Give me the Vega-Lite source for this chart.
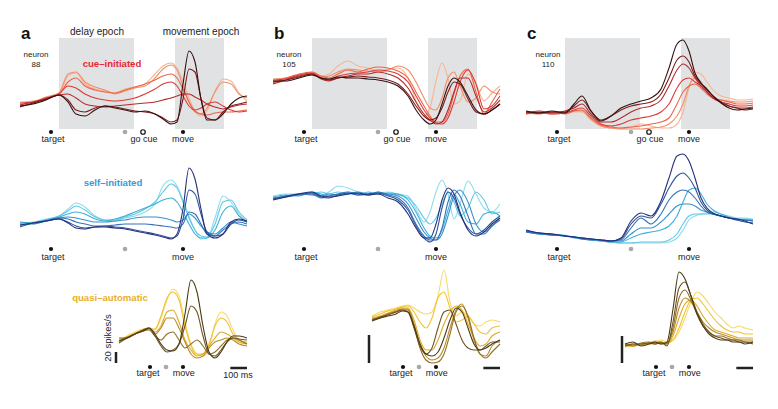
{
"$schema":"https://vega.github.io/schema/vega-lite/v6.json",
"padding":{"left":15,"top":25,"right":0,"bottom":0},
"autosize":{"type":"pad"},
"config":{"view":{"stroke":null},"font":"Liberation Sans"},
"data":{"values":[
{"col":"a","row":1,"t":-978,"c0":42,"c1":40,"c2":38,"c3":41,"c4":39,"c5":37,"c6":38},
{"col":"a","row":1,"t":-900,"c0":43,"c1":42,"c2":41,"c3":42,"c4":42,"c5":41,"c6":40},
{"col":"a","row":1,"t":-822,"c0":46,"c1":47,"c2":46,"c3":46,"c4":45,"c5":45,"c6":44},
{"col":"a","row":1,"t":-744,"c0":50,"c1":51,"c2":50,"c3":50,"c4":49,"c5":49,"c6":49},
{"col":"a","row":1,"t":-690,"c0":68,"c1":70,"c2":62,"c3":58,"c4":50,"c5":44,"c6":42},
{"col":"a","row":1,"t":-642,"c0":71,"c1":72,"c2":66,"c3":56,"c4":46,"c5":34,"c6":30},
{"col":"a","row":1,"t":-588,"c0":60,"c1":62,"c2":58,"c3":50,"c4":40,"c5":32,"c6":28},
{"col":"a","row":1,"t":-528,"c0":55,"c1":57,"c2":54,"c3":46,"c4":38,"c5":36,"c6":34},
{"col":"a","row":1,"t":-468,"c0":53,"c1":54,"c2":52,"c3":44,"c4":37,"c5":38,"c6":38},
{"col":"a","row":1,"t":-408,"c0":51,"c1":50,"c2":51,"c3":43,"c4":38,"c5":37,"c6":36},
{"col":"a","row":1,"t":-348,"c0":55,"c1":53,"c2":54,"c3":44,"c4":39,"c5":35,"c6":34},
{"col":"a","row":1,"t":-288,"c0":57,"c1":56,"c2":57,"c3":46,"c4":40,"c5":33,"c6":32},
{"col":"a","row":1,"t":-228,"c0":60,"c1":58,"c2":60,"c3":50,"c4":41,"c5":32,"c6":33},
{"col":"a","row":1,"t":-168,"c0":70,"c1":66,"c2":64,"c3":55,"c4":42,"c5":30,"c6":30},
{"col":"a","row":1,"t":-120,"c0":78,"c1":75,"c2":68,"c3":60,"c4":44,"c5":26,"c6":25},
{"col":"a","row":1,"t":-72,"c0":81,"c1":79,"c2":70,"c3":62,"c4":46,"c5":22,"c6":20},
{"col":"a","row":1,"t":-36,"c0":76,"c1":74,"c2":66,"c3":58,"c4":48,"c5":24,"c6":22},
{"col":"a","row":1,"t":0,"c0":63,"c1":58,"c2":55,"c3":48,"c4":50,"c5":45,"c6":60},
{"col":"a","row":1,"t":36,"c0":46,"c1":42,"c2":42,"c3":38,"c4":50,"c5":75,"c6":93},
{"col":"a","row":1,"t":72,"c0":33,"c1":32,"c2":33,"c3":34,"c4":47,"c5":72,"c6":82},
{"col":"a","row":1,"t":108,"c0":28,"c1":30,"c2":30,"c3":36,"c4":44,"c5":45,"c6":45},
{"col":"a","row":1,"t":144,"c0":33,"c1":36,"c2":29,"c3":40,"c4":40,"c5":26,"c6":24},
{"col":"a","row":1,"t":192,"c0":53,"c1":52,"c2":31,"c3":42,"c4":37,"c5":24,"c6":24},
{"col":"a","row":1,"t":240,"c0":65,"c1":62,"c2":32,"c3":38,"c4":35,"c5":32,"c6":30},
{"col":"a","row":1,"t":288,"c0":63,"c1":60,"c2":32,"c3":34,"c4":37,"c5":38,"c6":40},
{"col":"a","row":1,"t":336,"c0":51,"c1":50,"c2":33,"c3":32,"c4":39,"c5":40,"c6":46},
{"col":"a","row":1,"t":384,"c0":43,"c1":46,"c2":34,"c3":33,"c4":40,"c5":42,"c6":48},
{"col":"b","row":1,"t":-978,"c0":63,"c1":65,"c2":61,"c3":64,"c4":60,"c5":62,"c6":63},
{"col":"b","row":1,"t":-900,"c0":66,"c1":66,"c2":66,"c3":65,"c4":64,"c5":64,"c6":63},
{"col":"b","row":1,"t":-822,"c0":69,"c1":69,"c2":70,"c3":69,"c4":68,"c5":67,"c6":66},
{"col":"b","row":1,"t":-744,"c0":72,"c1":71,"c2":72,"c3":71,"c4":70,"c5":70,"c6":69},
{"col":"b","row":1,"t":-690,"c0":68,"c1":67,"c2":68,"c3":66,"c4":65,"c5":66,"c6":66},
{"col":"b","row":1,"t":-642,"c0":70,"c1":68,"c2":66,"c3":64,"c4":63,"c5":64,"c6":65},
{"col":"b","row":1,"t":-588,"c0":78,"c1":72,"c2":70,"c3":68,"c4":66,"c5":66,"c6":67},
{"col":"b","row":1,"t":-528,"c0":83,"c1":75,"c2":74,"c3":70,"c4":68,"c5":67,"c6":66},
{"col":"b","row":1,"t":-468,"c0":78,"c1":74,"c2":72,"c3":71,"c4":70,"c5":68,"c6":66},
{"col":"b","row":1,"t":-408,"c0":76,"c1":73,"c2":75,"c3":72,"c4":70,"c5":67,"c6":65},
{"col":"b","row":1,"t":-348,"c0":73,"c1":72,"c2":77,"c3":74,"c4":72,"c5":66,"c6":64},
{"col":"b","row":1,"t":-288,"c0":75,"c1":74,"c2":76,"c3":73,"c4":70,"c5":64,"c6":62},
{"col":"b","row":1,"t":-228,"c0":76,"c1":78,"c2":73,"c3":70,"c4":66,"c5":60,"c6":58},
{"col":"b","row":1,"t":-168,"c0":66,"c1":74,"c2":66,"c3":62,"c4":56,"c5":50,"c6":48},
{"col":"b","row":1,"t":-120,"c0":43,"c1":62,"c2":52,"c3":48,"c4":42,"c5":38,"c6":34},
{"col":"b","row":1,"t":-72,"c0":28,"c1":46,"c2":38,"c3":34,"c4":30,"c5":28,"c6":24},
{"col":"b","row":1,"t":-36,"c0":36,"c1":36,"c2":28,"c3":26,"c4":24,"c5":24,"c6":20},
{"col":"b","row":1,"t":0,"c0":63,"c1":34,"c2":22,"c3":21,"c4":20,"c5":26,"c6":24},
{"col":"b","row":1,"t":36,"c0":81,"c1":46,"c2":22,"c3":20,"c4":22,"c5":36,"c6":40},
{"col":"b","row":1,"t":72,"c0":66,"c1":66,"c2":30,"c3":26,"c4":34,"c5":52,"c6":58},
{"col":"b","row":1,"t":108,"c0":40,"c1":72,"c2":50,"c3":42,"c4":52,"c5":62,"c6":66},
{"col":"b","row":1,"t":144,"c0":43,"c1":58,"c2":68,"c3":62,"c4":66,"c5":60,"c6":62},
{"col":"b","row":1,"t":192,"c0":70,"c1":42,"c2":75,"c3":74,"c4":66,"c5":45,"c6":48},
{"col":"b","row":1,"t":240,"c0":60,"c1":46,"c2":52,"c3":60,"c4":48,"c5":32,"c6":34},
{"col":"b","row":1,"t":288,"c0":43,"c1":58,"c2":30,"c3":35,"c4":32,"c5":30,"c6":30},
{"col":"b","row":1,"t":336,"c0":51,"c1":52,"c2":42,"c3":38,"c4":36,"c5":34,"c6":34},
{"col":"b","row":1,"t":384,"c0":58,"c1":50,"c2":55,"c3":48,"c4":44,"c5":40,"c6":40},
{"col":"c","row":1,"t":-978,"c0":32,"c1":30,"c2":31,"c3":30,"c4":31,"c5":32,"c6":33},
{"col":"c","row":1,"t":-900,"c0":31,"c1":31,"c2":30,"c3":32,"c4":33,"c5":31,"c6":31},
{"col":"c","row":1,"t":-822,"c0":31,"c1":30,"c2":32,"c3":30,"c4":31,"c5":32,"c6":33},
{"col":"c","row":1,"t":-744,"c0":32,"c1":31,"c2":30,"c3":31,"c4":33,"c5":32,"c6":31},
{"col":"c","row":1,"t":-690,"c0":32,"c1":33,"c2":33,"c3":34,"c4":36,"c5":38,"c6":40},
{"col":"c","row":1,"t":-642,"c0":32,"c1":33,"c2":34,"c3":36,"c4":40,"c5":44,"c6":48},
{"col":"c","row":1,"t":-588,"c0":24,"c1":25,"c2":26,"c3":28,"c4":30,"c5":33,"c6":33},
{"col":"c","row":1,"t":-528,"c0":18,"c1":18,"c2":19,"c3":20,"c4":22,"c5":24,"c6":23},
{"col":"c","row":1,"t":-468,"c0":16,"c1":16,"c2":17,"c3":18,"c4":22,"c5":28,"c6":28},
{"col":"c","row":1,"t":-408,"c0":16,"c1":15,"c2":16,"c3":20,"c4":26,"c5":34,"c6":36},
{"col":"c","row":1,"t":-348,"c0":17,"c1":15,"c2":17,"c3":24,"c4":32,"c5":38,"c6":40},
{"col":"c","row":1,"t":-288,"c0":20,"c1":15,"c2":18,"c3":26,"c4":36,"c5":40,"c6":43},
{"col":"c","row":1,"t":-228,"c0":18,"c1":16,"c2":20,"c3":28,"c4":38,"c5":42,"c6":46},
{"col":"c","row":1,"t":-168,"c0":16,"c1":17,"c2":22,"c3":32,"c4":44,"c5":50,"c6":55},
{"col":"c","row":1,"t":-120,"c0":16,"c1":20,"c2":26,"c3":40,"c4":58,"c5":66,"c6":76},
{"col":"c","row":1,"t":-72,"c0":20,"c1":28,"c2":40,"c3":56,"c4":74,"c5":84,"c6":100},
{"col":"c","row":1,"t":-36,"c0":32,"c1":40,"c2":52,"c3":64,"c4":80,"c5":88,"c6":104},
{"col":"c","row":1,"t":0,"c0":56,"c1":58,"c2":58,"c3":66,"c4":76,"c5":82,"c6":93},
{"col":"c","row":1,"t":36,"c0":72,"c1":66,"c2":60,"c3":62,"c4":66,"c5":68,"c6":71},
{"col":"c","row":1,"t":72,"c0":70,"c1":62,"c2":56,"c3":58,"c4":58,"c5":60,"c6":61},
{"col":"c","row":1,"t":108,"c0":62,"c1":52,"c2":50,"c3":52,"c4":52,"c5":54,"c6":55},
{"col":"c","row":1,"t":144,"c0":54,"c1":46,"c2":46,"c3":46,"c4":46,"c5":48,"c6":48},
{"col":"c","row":1,"t":192,"c0":48,"c1":44,"c2":44,"c3":42,"c4":42,"c5":42,"c6":41},
{"col":"c","row":1,"t":240,"c0":46,"c1":43,"c2":42,"c3":40,"c4":38,"c5":38,"c6":36},
{"col":"c","row":1,"t":288,"c0":44,"c1":42,"c2":40,"c3":38,"c4":36,"c5":36,"c6":34},
{"col":"c","row":1,"t":336,"c0":44,"c1":42,"c2":40,"c3":38,"c4":36,"c5":34,"c6":35},
{"col":"c","row":1,"t":384,"c0":45,"c1":43,"c2":41,"c3":39,"c4":37,"c5":35,"c6":36},
{"col":"a","row":2,"t":-978,"s0":41,"s1":39,"s2":38,"s3":42,"s4":40,"s5":37,"s6":39},
{"col":"a","row":2,"t":-900,"s0":42,"s1":41,"s2":41,"s3":41,"s4":40,"s5":41,"s6":41},
{"col":"a","row":2,"t":-822,"s0":45,"s1":44,"s2":44,"s3":43,"s4":43,"s5":43,"s6":43},
{"col":"a","row":2,"t":-744,"s0":48,"s1":48,"s2":47,"s3":46,"s4":46,"s5":45,"s6":45},
{"col":"a","row":2,"t":-690,"s0":55,"s1":53,"s2":50,"s3":47,"s4":45,"s5":42,"s6":41},
{"col":"a","row":2,"t":-642,"s0":61,"s1":58,"s2":52,"s3":46,"s4":42,"s5":38,"s6":36},
{"col":"a","row":2,"t":-588,"s0":57,"s1":54,"s2":50,"s3":44,"s4":40,"s5":36,"s6":35},
{"col":"a","row":2,"t":-528,"s0":48,"s1":47,"s2":45,"s3":42,"s4":38,"s5":37,"s6":37},
{"col":"a","row":2,"t":-468,"s0":44,"s1":44,"s2":43,"s3":42,"s4":38,"s5":38,"s6":37},
{"col":"a","row":2,"t":-408,"s0":43,"s1":44,"s2":45,"s3":43,"s4":39,"s5":37,"s6":36},
{"col":"a","row":2,"t":-348,"s0":46,"s1":47,"s2":48,"s3":44,"s4":40,"s5":36,"s6":35},
{"col":"a","row":2,"t":-288,"s0":48,"s1":50,"s2":52,"s3":46,"s4":40,"s5":34,"s6":33},
{"col":"a","row":2,"t":-228,"s0":52,"s1":55,"s2":56,"s3":47,"s4":40,"s5":32,"s6":31},
{"col":"a","row":2,"t":-168,"s0":60,"s1":62,"s2":60,"s3":47,"s4":39,"s5":30,"s6":29},
{"col":"a","row":2,"t":-120,"s0":78,"s1":72,"s2":64,"s3":46,"s4":38,"s5":28,"s6":27},
{"col":"a","row":2,"t":-72,"s0":84,"s1":80,"s2":66,"s3":44,"s4":37,"s5":26,"s6":25},
{"col":"a","row":2,"t":-36,"s0":78,"s1":76,"s2":62,"s3":42,"s4":36,"s5":28,"s6":30},
{"col":"a","row":2,"t":0,"s0":64,"s1":62,"s2":52,"s3":44,"s4":40,"s5":45,"s6":55},
{"col":"a","row":2,"t":36,"s0":48,"s1":46,"s2":40,"s3":50,"s4":52,"s5":74,"s6":96},
{"col":"a","row":2,"t":72,"s0":34,"s1":34,"s2":30,"s3":46,"s4":50,"s5":70,"s6":85},
{"col":"a","row":2,"t":108,"s0":25,"s1":28,"s2":26,"s3":38,"s4":40,"s5":50,"s6":55},
{"col":"a","row":2,"t":144,"s0":26,"s1":27,"s2":26,"s3":32,"s4":30,"s5":32,"s6":30},
{"col":"a","row":2,"t":192,"s0":46,"s1":40,"s2":34,"s3":30,"s4":28,"s5":28,"s6":26},
{"col":"a","row":2,"t":240,"s0":68,"s1":62,"s2":52,"s3":36,"s4":34,"s5":30,"s6":30},
{"col":"a","row":2,"t":288,"s0":62,"s1":64,"s2":58,"s3":42,"s4":40,"s5":40,"s6":42},
{"col":"a","row":2,"t":336,"s0":50,"s1":52,"s2":48,"s3":40,"s4":42,"s5":44,"s6":45},
{"col":"a","row":2,"t":384,"s0":42,"s1":44,"s2":42,"s3":38,"s4":40,"s5":42,"s6":43},
{"col":"b","row":2,"t":-978,"s0":68,"s1":66,"s2":67,"s3":66,"s4":65,"s5":65,"s6":64},
{"col":"b","row":2,"t":-900,"s0":70,"s1":68,"s2":69,"s3":68,"s4":67,"s5":68,"s6":67},
{"col":"b","row":2,"t":-822,"s0":70,"s1":70,"s2":68,"s3":70,"s4":69,"s5":70,"s6":70},
{"col":"b","row":2,"t":-744,"s0":71,"s1":70,"s2":72,"s3":69,"s4":70,"s5":71,"s6":72},
{"col":"b","row":2,"t":-690,"s0":69,"s1":72,"s2":70,"s3":68,"s4":66,"s5":67,"s6":68},
{"col":"b","row":2,"t":-642,"s0":72,"s1":70,"s2":68,"s3":70,"s4":68,"s5":66,"s6":67},
{"col":"b","row":2,"t":-588,"s0":78,"s1":72,"s2":70,"s3":69,"s4":70,"s5":69,"s6":68},
{"col":"b","row":2,"t":-528,"s0":76,"s1":70,"s2":71,"s3":70,"s4":72,"s5":71,"s6":70},
{"col":"b","row":2,"t":-468,"s0":72,"s1":71,"s2":69,"s3":72,"s4":70,"s5":69,"s6":71},
{"col":"b","row":2,"t":-408,"s0":70,"s1":70,"s2":72,"s3":70,"s4":69,"s5":70,"s6":69},
{"col":"b","row":2,"t":-348,"s0":71,"s1":72,"s2":70,"s3":71,"s4":72,"s5":71,"s6":70},
{"col":"b","row":2,"t":-288,"s0":72,"s1":70,"s2":71,"s3":70,"s4":69,"s5":68,"s6":66},
{"col":"b","row":2,"t":-228,"s0":70,"s1":69,"s2":70,"s3":68,"s4":66,"s5":64,"s6":62},
{"col":"b","row":2,"t":-168,"s0":68,"s1":66,"s2":64,"s3":60,"s4":56,"s5":54,"s6":50},
{"col":"b","row":2,"t":-120,"s0":55,"s1":58,"s2":52,"s3":46,"s4":40,"s5":38,"s6":36},
{"col":"b","row":2,"t":-72,"s0":42,"s1":46,"s2":36,"s3":32,"s4":28,"s5":26,"s6":26},
{"col":"b","row":2,"t":-36,"s0":52,"s1":40,"s2":28,"s3":26,"s4":24,"s5":22,"s6":26},
{"col":"b","row":2,"t":0,"s0":72,"s1":46,"s2":26,"s3":24,"s4":24,"s5":30,"s6":40},
{"col":"b","row":2,"t":36,"s0":84,"s1":60,"s2":34,"s3":30,"s4":36,"s5":56,"s6":64},
{"col":"b","row":2,"t":72,"s0":70,"s1":72,"s2":54,"s3":48,"s4":62,"s5":72,"s6":76},
{"col":"b","row":2,"t":108,"s0":45,"s1":62,"s2":70,"s3":68,"s4":74,"s5":66,"s6":70},
{"col":"b","row":2,"t":144,"s0":60,"s1":48,"s2":60,"s3":74,"s4":68,"s5":50,"s6":52},
{"col":"b","row":2,"t":192,"s0":83,"s1":56,"s2":42,"s3":62,"s4":48,"s5":36,"s6":34},
{"col":"b","row":2,"t":240,"s0":70,"s1":72,"s2":40,"s3":40,"s4":30,"s5":30,"s6":28},
{"col":"b","row":2,"t":288,"s0":56,"s1":64,"s2":50,"s3":32,"s4":30,"s5":34,"s6":32},
{"col":"b","row":2,"t":336,"s0":52,"s1":50,"s2":52,"s3":38,"s4":38,"s5":42,"s6":40},
{"col":"b","row":2,"t":384,"s0":60,"s1":52,"s2":48,"s3":46,"s4":44,"s5":48,"s6":46},
{"col":"c","row":2,"t":-978,"s0":32,"s1":33,"s2":32,"s3":33,"s4":32,"s5":33,"s6":34},
{"col":"c","row":2,"t":-900,"s0":31,"s1":31,"s2":30,"s3":31,"s4":30,"s5":31,"s6":31},
{"col":"c","row":2,"t":-822,"s0":30,"s1":29,"s2":29,"s3":29,"s4":29,"s5":30,"s6":30},
{"col":"c","row":2,"t":-744,"s0":29,"s1":28,"s2":28,"s3":28,"s4":28,"s5":28,"s6":28},
{"col":"c","row":2,"t":-690,"s0":27,"s1":27,"s2":26,"s3":27,"s4":27,"s5":27,"s6":27},
{"col":"c","row":2,"t":-642,"s0":26,"s1":26,"s2":25,"s3":26,"s4":25,"s5":26,"s6":26},
{"col":"c","row":2,"t":-588,"s0":24,"s1":25,"s2":24,"s3":25,"s4":24,"s5":25,"s6":25},
{"col":"c","row":2,"t":-528,"s0":23,"s1":23,"s2":23,"s3":24,"s4":24,"s5":24,"s6":24},
{"col":"c","row":2,"t":-468,"s0":22,"s1":22,"s2":22,"s3":23,"s4":23,"s5":23,"s6":23},
{"col":"c","row":2,"t":-408,"s0":21,"s1":21,"s2":22,"s3":23,"s4":24,"s5":25,"s6":26},
{"col":"c","row":2,"t":-348,"s0":21,"s1":21,"s2":26,"s3":30,"s4":36,"s5":40,"s6":43},
{"col":"c","row":2,"t":-288,"s0":21,"s1":22,"s2":30,"s3":36,"s4":46,"s5":48,"s6":51},
{"col":"c","row":2,"t":-228,"s0":21,"s1":22,"s2":32,"s3":36,"s4":40,"s5":46,"s6":48},
{"col":"c","row":2,"t":-168,"s0":21,"s1":22,"s2":34,"s3":42,"s4":50,"s5":60,"s6":63},
{"col":"c","row":2,"t":-120,"s0":22,"s1":24,"s2":38,"s3":50,"s4":64,"s5":76,"s6":86},
{"col":"c","row":2,"t":-72,"s0":26,"s1":30,"s2":48,"s3":58,"s4":72,"s5":88,"s6":108},
{"col":"c","row":2,"t":-36,"s0":34,"s1":40,"s2":62,"s3":60,"s4":74,"s5":91,"s6":110},
{"col":"c","row":2,"t":0,"s0":44,"s1":48,"s2":74,"s3":60,"s4":72,"s5":86,"s6":103},
{"col":"c","row":2,"t":36,"s0":48,"s1":50,"s2":76,"s3":58,"s4":66,"s5":76,"s6":86},
{"col":"c","row":2,"t":72,"s0":50,"s1":50,"s2":70,"s3":54,"s4":58,"s5":62,"s6":66},
{"col":"c","row":2,"t":108,"s0":51,"s1":50,"s2":60,"s3":52,"s4":52,"s5":54,"s6":56},
{"col":"c","row":2,"t":144,"s0":52,"s1":50,"s2":54,"s3":50,"s4":50,"s5":50,"s6":51},
{"col":"c","row":2,"t":192,"s0":50,"s1":48,"s2":50,"s3":48,"s4":48,"s5":48,"s6":48},
{"col":"c","row":2,"t":240,"s0":48,"s1":46,"s2":47,"s3":46,"s4":46,"s5":46,"s6":46},
{"col":"c","row":2,"t":288,"s0":46,"s1":45,"s2":45,"s3":45,"s4":44,"s5":44,"s6":45},
{"col":"c","row":2,"t":336,"s0":46,"s1":45,"s2":44,"s3":44,"s4":44,"s5":42,"s6":43},
{"col":"c","row":2,"t":384,"s0":45,"s1":44,"s2":44,"s3":43,"s4":43,"s5":41,"s6":40},
{"col":"a","row":3,"t":-384,"q0":42,"q1":44,"q2":45,"q3":43,"q4":46,"q5":41,"q6":43},
{"col":"a","row":3,"t":-336,"q0":48,"q1":47,"q2":47,"q3":47,"q4":46,"q5":46,"q6":46},
{"col":"a","row":3,"t":-288,"q0":52,"q1":51,"q2":50,"q3":50,"q4":50,"q5":50,"q6":50},
{"col":"a","row":3,"t":-240,"q0":55,"q1":54,"q2":54,"q3":53,"q4":53,"q5":54,"q6":53},
{"col":"a","row":3,"t":-204,"q0":56,"q1":55,"q2":56,"q3":55,"q4":54,"q5":56,"q6":56},
{"col":"a","row":3,"t":-168,"q0":54,"q1":55,"q2":52,"q3":50,"q4":48,"q5":48,"q6":50},
{"col":"a","row":3,"t":-132,"q0":66,"q1":68,"q2":58,"q3":56,"q4":44,"q5":38,"q6":40},
{"col":"a","row":3,"t":-96,"q0":84,"q1":86,"q2":72,"q3":66,"q4":50,"q5":32,"q6":34},
{"col":"a","row":3,"t":-60,"q0":95,"q1":92,"q2":74,"q3":66,"q4":52,"q5":34,"q6":33},
{"col":"a","row":3,"t":-24,"q0":88,"q1":84,"q2":62,"q3":56,"q4":44,"q5":40,"q6":40},
{"col":"a","row":3,"t":12,"q0":62,"q1":58,"q2":44,"q3":42,"q4":36,"q5":58,"q6":70},
{"col":"a","row":3,"t":48,"q0":40,"q1":38,"q2":34,"q3":30,"q4":40,"q5":78,"q6":104},
{"col":"a","row":3,"t":84,"q0":30,"q1":30,"q2":28,"q3":26,"q4":44,"q5":72,"q6":92},
{"col":"a","row":3,"t":120,"q0":28,"q1":30,"q2":30,"q3":28,"q4":38,"q5":48,"q6":58},
{"col":"a","row":3,"t":156,"q0":36,"q1":40,"q2":38,"q3":36,"q4":30,"q5":30,"q6":32},
{"col":"a","row":3,"t":192,"q0":60,"q1":58,"q2":46,"q3":42,"q4":32,"q5":28,"q6":26},
{"col":"a","row":3,"t":228,"q0":72,"q1":66,"q2":52,"q3":44,"q4":38,"q5":34,"q6":32},
{"col":"a","row":3,"t":264,"q0":68,"q1":62,"q2":50,"q3":46,"q4":44,"q5":42,"q6":42},
{"col":"a","row":3,"t":300,"q0":54,"q1":50,"q2":46,"q3":44,"q4":46,"q5":46,"q6":48},
{"col":"a","row":3,"t":336,"q0":44,"q1":44,"q2":42,"q3":40,"q4":44,"q5":45,"q6":48},
{"col":"a","row":3,"t":384,"q0":41,"q1":42,"q2":40,"q3":38,"q4":40,"q5":44,"q6":46},
{"col":"b","row":3,"t":-384,"q0":68,"q1":67,"q2":66,"q3":65,"q4":64,"q5":64,"q6":63},
{"col":"b","row":3,"t":-336,"q0":72,"q1":70,"q2":68,"q3":67,"q4":66,"q5":67,"q6":66},
{"col":"b","row":3,"t":-288,"q0":74,"q1":73,"q2":71,"q3":70,"q4":70,"q5":69,"q6":68},
{"col":"b","row":3,"t":-240,"q0":76,"q1":75,"q2":74,"q3":73,"q4":72,"q5":72,"q6":70},
{"col":"b","row":3,"t":-204,"q0":78,"q1":77,"q2":76,"q3":75,"q4":74,"q5":74,"q6":73},
{"col":"b","row":3,"t":-168,"q0":79,"q1":78,"q2":76,"q3":75,"q4":74,"q5":72,"q6":72},
{"col":"b","row":3,"t":-132,"q0":76,"q1":72,"q2":64,"q3":60,"q4":58,"q5":56,"q6":58},
{"col":"b","row":3,"t":-96,"q0":72,"q1":62,"q2":44,"q3":40,"q4":36,"q5":38,"q6":40},
{"col":"b","row":3,"t":-60,"q0":70,"q1":56,"q2":34,"q3":28,"q4":24,"q5":30,"q6":30},
{"col":"b","row":3,"t":-24,"q0":72,"q1":66,"q2":34,"q3":24,"q4":21,"q5":36,"q6":28},
{"col":"b","row":3,"t":12,"q0":88,"q1":86,"q2":44,"q3":26,"q4":22,"q5":56,"q6":32},
{"col":"b","row":3,"t":48,"q0":114,"q1":92,"q2":60,"q3":36,"q4":30,"q5":72,"q6":46},
{"col":"b","row":3,"t":84,"q0":82,"q1":76,"q2":72,"q3":56,"q4":50,"q5":74,"q6":64},
{"col":"b","row":3,"t":120,"q0":68,"q1":62,"q2":78,"q3":74,"q4":72,"q5":60,"q6":76},
{"col":"b","row":3,"t":156,"q0":72,"q1":64,"q2":74,"q3":80,"q4":78,"q5":44,"q6":72},
{"col":"b","row":3,"t":192,"q0":68,"q1":68,"q2":60,"q3":66,"q4":68,"q5":36,"q6":56},
{"col":"b","row":3,"t":228,"q0":60,"q1":60,"q2":46,"q3":44,"q4":46,"q5":34,"q6":40},
{"col":"b","row":3,"t":264,"q0":58,"q1":52,"q2":38,"q3":30,"q4":30,"q5":34,"q6":34},
{"col":"b","row":3,"t":300,"q0":62,"q1":50,"q2":40,"q3":28,"q4":26,"q5":38,"q6":36},
{"col":"b","row":3,"t":336,"q0":64,"q1":56,"q2":48,"q3":38,"q4":32,"q5":42,"q6":40},
{"col":"b","row":3,"t":384,"q0":62,"q1":58,"q2":52,"q3":44,"q4":40,"q5":42,"q6":44},
{"col":"c","row":3,"t":-384,"q0":38,"q1":37,"q2":38,"q3":39,"q4":40,"q5":38,"q6":40},
{"col":"c","row":3,"t":-336,"q0":38,"q1":38,"q2":39,"q3":40,"q4":38,"q5":40,"q6":42},
{"col":"c","row":3,"t":-288,"q0":39,"q1":40,"q2":40,"q3":39,"q4":41,"q5":40,"q6":38},
{"col":"c","row":3,"t":-240,"q0":40,"q1":41,"q2":40,"q3":41,"q4":42,"q5":41,"q6":40},
{"col":"c","row":3,"t":-204,"q0":42,"q1":43,"q2":41,"q3":42,"q4":40,"q5":40,"q6":42},
{"col":"c","row":3,"t":-168,"q0":44,"q1":42,"q2":42,"q3":40,"q4":41,"q5":42,"q6":40},
{"col":"c","row":3,"t":-132,"q0":42,"q1":41,"q2":40,"q3":41,"q4":40,"q5":38,"q6":42},
{"col":"c","row":3,"t":-96,"q0":44,"q1":44,"q2":48,"q3":52,"q4":56,"q5":62,"q6":75},
{"col":"c","row":3,"t":-60,"q0":52,"q1":56,"q2":66,"q3":76,"q4":86,"q5":96,"q6":112},
{"col":"c","row":3,"t":-24,"q0":66,"q1":72,"q2":80,"q3":86,"q4":94,"q5":102,"q6":105},
{"col":"c","row":3,"t":12,"q0":82,"q1":84,"q2":84,"q3":82,"q4":84,"q5":88,"q6":88},
{"col":"c","row":3,"t":48,"q0":92,"q1":86,"q2":78,"q3":72,"q4":70,"q5":72,"q6":70},
{"col":"c","row":3,"t":84,"q0":88,"q1":80,"q2":68,"q3":62,"q4":58,"q5":60,"q6":58},
{"col":"c","row":3,"t":120,"q0":80,"q1":72,"q2":60,"q3":56,"q4":52,"q5":52,"q6":50},
{"col":"c","row":3,"t":156,"q0":72,"q1":64,"q2":54,"q3":52,"q4":48,"q5":48,"q6":46},
{"col":"c","row":3,"t":192,"q0":66,"q1":58,"q2":52,"q3":50,"q4":48,"q5":46,"q6":44},
{"col":"c","row":3,"t":228,"q0":60,"q1":54,"q2":50,"q3":48,"q4":46,"q5":44,"q6":44},
{"col":"c","row":3,"t":264,"q0":56,"q1":52,"q2":48,"q3":46,"q4":44,"q5":44,"q6":42},
{"col":"c","row":3,"t":300,"q0":58,"q1":52,"q2":46,"q3":44,"q4":44,"q5":42,"q6":42},
{"col":"c","row":3,"t":336,"q0":56,"q1":50,"q2":46,"q3":44,"q4":42,"q5":42,"q6":40},
{"col":"c","row":3,"t":384,"q0":54,"q1":50,"q2":46,"q3":44,"q4":42,"q5":40,"q6":42},
{"col":"a","row":1,"e":"rect","t":-744,"t2":-294,"v":15,"v2":106},
{"col":"a","row":1,"e":"rect","t":-48,"t2":246,"v":15,"v2":106},
{"col":"b","row":1,"e":"rect","t":-744,"t2":-294,"v":15,"v2":106},
{"col":"b","row":1,"e":"rect","t":-48,"t2":246,"v":15,"v2":106},
{"col":"c","row":1,"e":"rect","t":-744,"t2":-294,"v":15,"v2":106},
{"col":"c","row":1,"e":"rect","t":-48,"t2":246,"v":15,"v2":106},
{"col":"a","row":1,"e":"kd","t":-792,"v":12},{"col":"a","row":1,"e":"gd","t":-348,"v":12},{"col":"a","row":1,"e":"od","t":-240,"v":12},{"col":"a","row":1,"e":"kd","t":0,"v":12},
{"col":"b","row":1,"e":"kd","t":-792,"v":12},{"col":"b","row":1,"e":"gd","t":-348,"v":12},{"col":"b","row":1,"e":"od","t":-240,"v":12},{"col":"b","row":1,"e":"kd","t":0,"v":12},
{"col":"c","row":1,"e":"kd","t":-792,"v":12},{"col":"c","row":1,"e":"gd","t":-348,"v":12},{"col":"c","row":1,"e":"od","t":-240,"v":12},{"col":"c","row":1,"e":"kd","t":0,"v":12},
{"col":"a","row":1,"e":"lab","t":-780,"v":5,"s":"target"},{"col":"a","row":1,"e":"lab","t":-234,"v":5,"s":"go cue"},{"col":"a","row":1,"e":"lab","t":0,"v":5,"s":"move"},
{"col":"b","row":1,"e":"lab","t":-780,"v":5,"s":"target"},{"col":"b","row":1,"e":"lab","t":-234,"v":5,"s":"go cue"},{"col":"b","row":1,"e":"lab","t":0,"v":5,"s":"move"},
{"col":"c","row":1,"e":"lab","t":-780,"v":5,"s":"target"},{"col":"c","row":1,"e":"lab","t":-234,"v":5,"s":"go cue"},{"col":"c","row":1,"e":"lab","t":0,"v":5,"s":"move"},
{"col":"a","row":1,"e":"pl","t":-972,"v":110,"s":"a"},{"col":"b","row":1,"e":"pl","t":-972,"v":110,"s":"b"},{"col":"c","row":1,"e":"pl","t":-972,"v":110,"s":"c"},
{"col":"a","row":1,"e":"nr","t":-882,"v":89,"s":"neuron"},{"col":"a","row":1,"e":"nr","t":-882,"v":79,"s":"88"},
{"col":"b","row":1,"e":"nr","t":-882,"v":89,"s":"neuron"},{"col":"b","row":1,"e":"nr","t":-882,"v":79,"s":"105"},
{"col":"c","row":1,"e":"nr","t":-846,"v":89,"s":"neuron"},{"col":"c","row":1,"e":"nr","t":-846,"v":79,"s":"110"},
{"col":"a","row":1,"e":"ep","t":-516,"v":112,"s":"delay epoch"},{"col":"a","row":1,"e":"ep","t":108,"v":112,"s":"movement epoch"},
{"col":"a","row":1,"e":"cue","t":-426,"v":80,"s":"cue–initiated"},
{"col":"a","row":2,"e":"kd","t":-792,"v":15},{"col":"a","row":2,"e":"gd","t":-348,"v":15},{"col":"a","row":2,"e":"kd","t":0,"v":15},
{"col":"b","row":2,"e":"kd","t":-792,"v":15},{"col":"b","row":2,"e":"gd","t":-348,"v":15},{"col":"b","row":2,"e":"kd","t":0,"v":15},
{"col":"c","row":2,"e":"kd","t":-792,"v":15},{"col":"c","row":2,"e":"gd","t":-348,"v":15},{"col":"c","row":2,"e":"kd","t":0,"v":15},
{"col":"a","row":2,"e":"lab","t":-780,"v":7,"s":"target"},{"col":"a","row":2,"e":"lab","t":0,"v":7,"s":"move"},
{"col":"b","row":2,"e":"lab","t":-780,"v":7,"s":"target"},{"col":"b","row":2,"e":"lab","t":0,"v":7,"s":"move"},
{"col":"c","row":2,"e":"lab","t":-780,"v":7,"s":"target"},{"col":"c","row":2,"e":"lab","t":0,"v":7,"s":"move"},
{"col":"a","row":2,"e":"self","t":-420,"v":81,"s":"self–initiated"},
{"col":"a","row":3,"e":"kd","t":-198,"v":17},{"col":"a","row":3,"e":"gd","t":-102,"v":17},{"col":"a","row":3,"e":"kd","t":0,"v":17},
{"col":"b","row":3,"e":"kd","t":-198,"v":17},{"col":"b","row":3,"e":"gd","t":-102,"v":17},{"col":"b","row":3,"e":"kd","t":0,"v":17},
{"col":"c","row":3,"e":"kd","t":-198,"v":17},{"col":"c","row":3,"e":"gd","t":-102,"v":17},{"col":"c","row":3,"e":"kd","t":0,"v":17},
{"col":"a","row":3,"e":"lab","t":-210,"v":11,"s":"target"},{"col":"a","row":3,"e":"lab","t":4,"v":11,"s":"move"},
{"col":"b","row":3,"e":"lab","t":-210,"v":11,"s":"target"},{"col":"b","row":3,"e":"lab","t":4,"v":11,"s":"move"},
{"col":"c","row":3,"e":"lab","t":-210,"v":11,"s":"target"},{"col":"c","row":3,"e":"lab","t":4,"v":11,"s":"move"},
{"col":"a","row":3,"e":"bar","t":-402,"t2":-402,"v":21,"v2":32},{"col":"a","row":3,"e":"bar","t":284,"t2":384,"v":16,"v2":16},
{"col":"b","row":3,"e":"bar","t":-402,"t2":-402,"v":21,"v2":49},{"col":"b","row":3,"e":"bar","t":284,"t2":384,"v":16,"v2":16},
{"col":"c","row":3,"e":"bar","t":-402,"t2":-402,"v":21,"v2":48},{"col":"c","row":3,"e":"bar","t":284,"t2":384,"v":16,"v2":16},
{"col":"a","row":3,"e":"quasi","t":-438,"v":86,"s":"quasi–automatic"},
{"col":"a","row":3,"e":"sbv","t":-450,"v":46,"s":"20 spikes/s"},
{"col":"a","row":3,"e":"sbh","t":330,"v":9,"s":"100 ms"}
]},
"facet":{
"row":{"field":"row","type":"ordinal","title":null,"header":{"labels":false,"title":null}},
"column":{"field":"col","type":"nominal","title":null,"header":{"labels":false,"title":null}}
},
"spacing":{"row":2,"column":13},
"spec":{
"width":240,"height":118,
"layer":[
{"transform":[{"filter":"datum.e=='rect'"}],"mark":{"type":"rect","color":"#e1e2e4"},
"encoding":{"x":{"field":"t","type":"quantitative","scale":{"domain":[-1008,432],"nice":false,"zero":false},"axis":null},"x2":{"field":"t2"},"y":{"field":"v","type":"quantitative","scale":{"domain":[0,118],"nice":false,"zero":false},"axis":null},"y2":{"field":"v2"}}},
{"transform":[{"filter":"!datum.e"},{"fold":["c0","c1","c2","c3","c4","c5","c6","s0","s1","s2","s3","s4","s5","s6","q0","q1","q2","q3","q4","q5","q6"],"as":["k","val"]},{"filter":"isValid(datum.val)"}],
"mark":{"type":"line","interpolate":"monotone","strokeWidth":1.1},
"encoding":{"x":{"field":"t","type":"quantitative","axis":null},"y":{"field":"val","type":"quantitative","axis":null},
"color":{"field":"k","type":"nominal","legend":null,"scale":{"domain":["c0","c1","c2","c3","c4","c5","c6","s0","s1","s2","s3","s4","s5","s6","q0","q1","q2","q3","q4","q5","q6"],
"range":["#f7b592","#f28d68","#ec6449","#dc3a37","#b52a2a","#7a1d1d","#361010","#8edbea","#5cc8e4","#3cb0dc","#3592cc","#3572b8","#2e539e","#262f78","#f9da62","#f2c234","#dcaa26","#b88c28","#927026","#6e5420","#4c3a18"]}}}},
{"transform":[{"filter":"datum.e=='bar'"}],"mark":{"type":"rule","color":"#222","strokeWidth":2.5},
"encoding":{"x":{"field":"t","type":"quantitative","axis":null},"x2":{"field":"t2"},"y":{"field":"v","type":"quantitative","axis":null},"y2":{"field":"v2"}}},
{"transform":[{"filter":"datum.e=='kd'"}],"mark":{"type":"point","filled":true,"color":"#111","size":18,"opacity":1},
"encoding":{"x":{"field":"t","type":"quantitative","axis":null},"y":{"field":"v","type":"quantitative","axis":null}}},
{"transform":[{"filter":"datum.e=='gd'"}],"mark":{"type":"point","filled":true,"color":"#a8a8a8","size":22,"opacity":1},
"encoding":{"x":{"field":"t","type":"quantitative","axis":null},"y":{"field":"v","type":"quantitative","axis":null}}},
{"transform":[{"filter":"datum.e=='od'"}],"mark":{"type":"point","filled":true,"fill":"white","stroke":"#111","strokeWidth":1.2,"size":20,"opacity":1},
"encoding":{"x":{"field":"t","type":"quantitative","axis":null},"y":{"field":"v","type":"quantitative","axis":null}}},
{"transform":[{"filter":"datum.e=='lab'"}],"mark":{"type":"text","fontSize":9,"color":"#222","baseline":"middle","align":"center"},
"encoding":{"x":{"field":"t","type":"quantitative","axis":null},"y":{"field":"v","type":"quantitative","axis":null},"text":{"field":"s"}}},
{"transform":[{"filter":"datum.e=='nr'"}],"mark":{"type":"text","fontSize":8,"color":"#222","baseline":"middle","align":"center"},
"encoding":{"x":{"field":"t","type":"quantitative","axis":null},"y":{"field":"v","type":"quantitative","axis":null},"text":{"field":"s"}}},
{"transform":[{"filter":"datum.e=='ep'"}],"mark":{"type":"text","fontSize":10,"color":"#222","baseline":"middle","align":"center"},
"encoding":{"x":{"field":"t","type":"quantitative","axis":null},"y":{"field":"v","type":"quantitative","axis":null},"text":{"field":"s"}}},
{"transform":[{"filter":"datum.e=='pl'"}],"mark":{"type":"text","fontSize":17,"fontWeight":"bold","color":"#111","baseline":"middle","align":"left"},
"encoding":{"x":{"field":"t","type":"quantitative","axis":null},"y":{"field":"v","type":"quantitative","axis":null},"text":{"field":"s"}}},
{"transform":[{"filter":"datum.e=='cue'"}],"mark":{"type":"text","fontSize":9.6,"fontWeight":"bold","color":"#e6282f","baseline":"middle","align":"center"},
"encoding":{"x":{"field":"t","type":"quantitative","axis":null},"y":{"field":"v","type":"quantitative","axis":null},"text":{"field":"s"}}},
{"transform":[{"filter":"datum.e=='self'"}],"mark":{"type":"text","fontSize":9.6,"fontWeight":"bold","color":"#3a9ad6","baseline":"middle","align":"center"},
"encoding":{"x":{"field":"t","type":"quantitative","axis":null},"y":{"field":"v","type":"quantitative","axis":null},"text":{"field":"s"}}},
{"transform":[{"filter":"datum.e=='quasi'"}],"mark":{"type":"text","fontSize":9.6,"fontWeight":"bold","color":"#e8b02a","baseline":"middle","align":"center"},
"encoding":{"x":{"field":"t","type":"quantitative","axis":null},"y":{"field":"v","type":"quantitative","axis":null},"text":{"field":"s"}}},
{"transform":[{"filter":"datum.e=='sbv'"}],"mark":{"type":"text","fontSize":9.5,"color":"#222","baseline":"middle","align":"center","angle":270},
"encoding":{"x":{"field":"t","type":"quantitative","axis":null},"y":{"field":"v","type":"quantitative","axis":null},"text":{"field":"s"}}},
{"transform":[{"filter":"datum.e=='sbh'"}],"mark":{"type":"text","fontSize":9,"color":"#222","baseline":"middle","align":"center"},
"encoding":{"x":{"field":"t","type":"quantitative","axis":null},"y":{"field":"v","type":"quantitative","axis":null},"text":{"field":"s"}}}
]}
}
